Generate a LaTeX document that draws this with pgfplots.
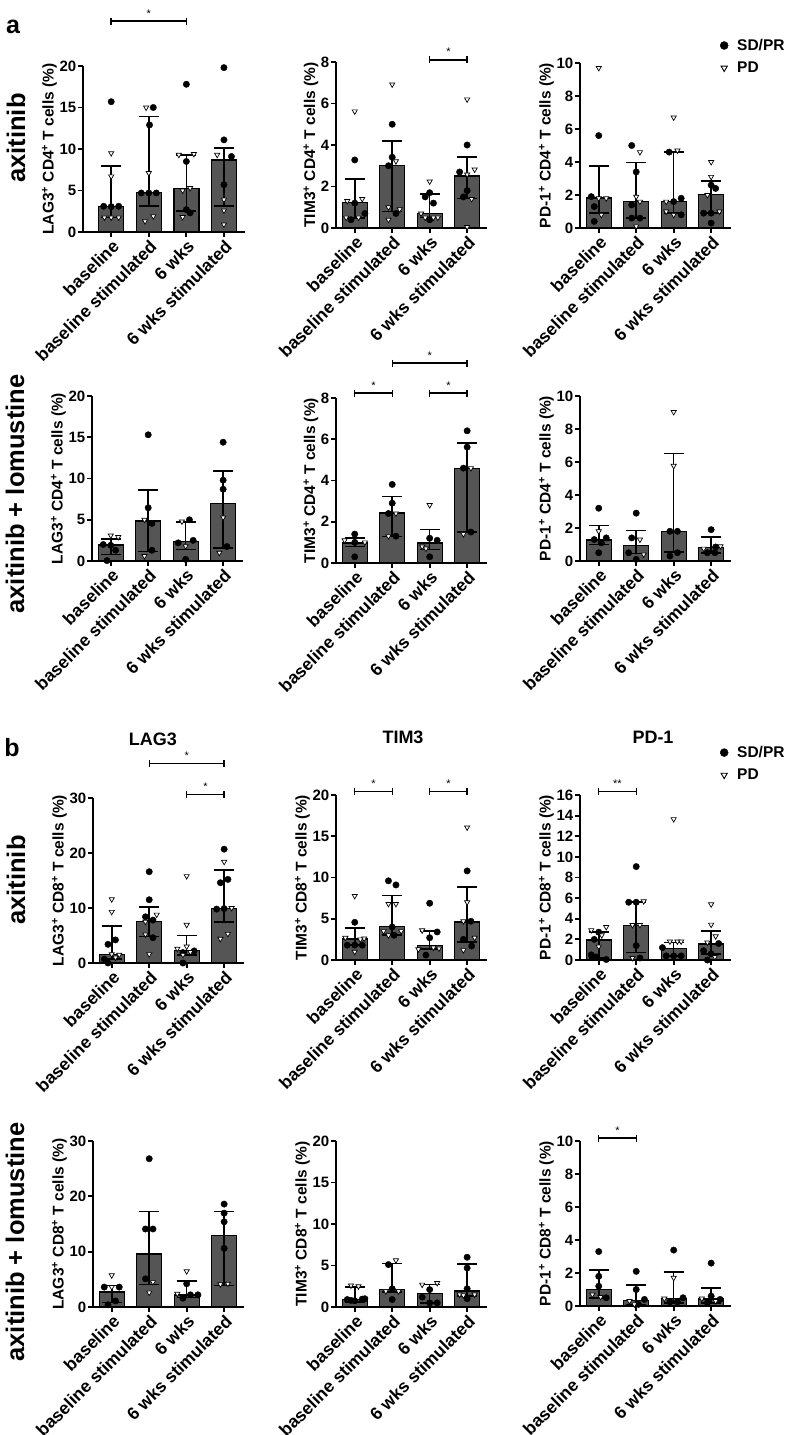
\documentclass[border=0pt]{standalone}
\usepackage{fontspec}
\setmainfont{Liberation Sans}
\usepackage{pgfplots}
\pgfplotsset{compat=1.18}
\definecolor{barfill}{HTML}{555555}
\newcommand\tickfont{\fontsize{15}{17}\selectfont\bfseries}
\newcommand\catfont{\fontsize{17.5}{19}\selectfont\bfseries}
\newcommand\labfont{\fontsize{15.5}{18}\selectfont\bfseries}
\newcommand\legfont{\fontsize{15.5}{18}\selectfont\bfseries}
\newcommand\starfont{\fontsize{11}{12}\selectfont}
\newcommand\sidefont{\fontsize{25.5}{28}\selectfont\bfseries}
\newcommand\titlefont{\fontsize{18}{21}\selectfont\bfseries}
\newcommand\letterfont{\fontsize{25}{28}\selectfont\bfseries}
\pgfplotsset{
  panel/.style={
    scale only axis, anchor=south west, width=151pt, height=165pt,
    xmin=-0.5, xmax=3.53, ymin=0, enlargelimits=false, clip=false,
    axis lines=left, axis line style={-, line width=1.8pt, black},
    xtick={0,1,2,3}, xticklabels={baseline,baseline stimulated,6 wks,6 wks stimulated},
    tick align=outside, major tick length=5pt, tick style={line width=1.8pt, black},
    minor tick num=0,
    /pgf/number format/assume math mode=true,
    x tick label style={rotate=45, anchor=north east, font=\catfont, inner sep=1pt},
    y tick label style={font=\tickfont, inner sep=1.5pt},
    ylabel style={font=\labfont, inner sep=1pt},
    legend image code/.code={\draw[#1] plot coordinates {(0pt,0pt)};},
  },
  bars/.style={ybar, bar width=25pt, fill=barfill, draw=black, line width=1.3pt,
    error bars/y dir=both, error bars/y explicit,
    error bars/error bar style={line width=1.6pt, black},
    error bars/error mark options={rotate=90, mark size=10pt, line width=1.6pt, black}},
  sd/.style={only marks, mark=*, mark size=3.2pt, mark options={fill=black, draw=black}},
  pd/.style={only marks, mark=triangle*, mark size=3pt, mark options={rotate=180, fill=white, draw=black, line width=0.7pt}},
  sig/.style={black, line width=1.4pt, mark=|, mark size=3.5pt, mark options={solid, line width=1.4pt}},
  leg/.style={legend style={anchor=north west, draw=none, fill=none, font=\legfont, inner sep=0pt, row sep=6pt, legend cell align=left, /tikz/every odd column/.append style={column sep=7pt}}},
}
\tikzset{sigstar/.style={anchor=base, yshift=4pt, font=\starfont, inner sep=0pt}}
\begin{document}
\begin{tikzpicture}
\useasboundingbox (0pt,0pt) rectangle (785pt,-1435pt);
% ---------- Row 1: CD4, axitinib
\begin{axis}[panel, at={(83pt,-232pt)}, width=162pt, height=166pt, xmin=-0.75, xmax=3.56, ymax=20, ytick={0,5,10,15,20},
  ylabel={LAG3\textsuperscript{+} CD4\textsuperscript{+} T cells (\%)}]
\addplot[bars] coordinates {(0,3.07) += (0,4.88) -= (0,1.32) (1,4.77) += (0,9.13) -= (0,1.67) (2,5.25) += (0,4.0) -= (0,2.75) (3,8.66) += (0,1.44) -= (0,5.56)};
\addplot[sd] coordinates {(0,15.7) (-0.2,3.1) (0,3.05) (0.2,3.1) (1.12,15.0) (1.02,12.9) (0.8,4.7) (1.0,4.7) (1.2,4.7) (2,17.8) (2,8.5) (2,2.7) (2.1,2.3) (3,19.8) (3,11.1) (3.2,9.1) (3,5.7)};
\addplot[pd] coordinates {(0,9.5) (0,6.7) (-0.18,1.75) (0,1.75) (0.2,1.75) (0.93,15.0) (1,7.1) (1.12,1.9) (0.9,1.3) (1.8,9.3) (2.2,9.4) (1.9,5.0) (2.1,5.3) (1.9,1.8) (2.82,9.3) (3,3.9) (3,2.6) (3,0.9)};
\addplot[sig] coordinates {(0,25.4) (2,25.4)};
\node[sigstar] at (axis cs:1,25.4) {*};
\end{axis}
\begin{axis}[panel, at={(336pt,-228pt)}, height=166pt, ymax=8, ytick={0,2,4,6,8},
  ylabel={TIM3\textsuperscript{+} CD4\textsuperscript{+} T cells (\%)}]
\addplot[bars] coordinates {(0,1.22) += (0,1.13) -= (0,0.74) (1,3.01) += (0,1.19) -= (0,2.22) (2,0.71) += (0,0.92) -= (0,0.21) (3,2.51) += (0,0.9) -= (0,1.09)};
\addplot[sd] coordinates {(0,3.28) (0,1.2) (0.27,0.7) (-0.1,0.4) (1,5.0) (1,3.41) (0.9,3.0) (1.1,0.7) (2,1.7) (1.88,1.5) (2.1,1.2) (2,0.4) (3,4.0) (2.8,2.7) (3,1.8) (2.9,1.5)};
\addplot[pd] coordinates {(0,5.62) (-0.2,1.3) (0.2,1.4) (-0.23,0.5) (0.1,0.5) (1,6.92) (1.1,3.22) (0.9,1.0) (1.2,0.9) (0.9,0.4) (2,2.24) (1.77,0.7) (1.88,0.5) (2.1,0.5) (2.22,0.5) (3,6.2) (3.2,2.82) (3,2.58) (3.12,1.4) (3,0.05)};
\addplot[sig] coordinates {(2,8.1) (3,8.1)};
\node[sigstar] at (axis cs:2.5,8.1) {*};
\end{axis}
\begin{axis}[panel, leg, at={(580pt,-228pt)}, ymax=10, ytick={0,2,4,6,8,10},
  ylabel={PD-1\textsuperscript{+} CD4\textsuperscript{+} T cells (\%)},
  legend style={at={(0.927,1.158)}}]
\addlegendimage{black, mark=*, mark size=4pt}
\addlegendentry{SD/PR}
\addlegendimage{black, mark=triangle*, mark size=3.6pt, mark options={rotate=180, fill=white, draw=black, line width=0.9pt}}
\addlegendentry{PD}
\addplot[bars] coordinates {(0,1.81) += (0,1.95) -= (0,0.91) (1,1.61) += (0,2.37) -= (0,1.01) (2,1.6) += (0,2.99) -= (0,0.7) (3,2.03) += (0,0.81) -= (0,1.13)};
\addplot[sd] coordinates {(0,5.6) (-0.2,1.9) (-0.12,1.3) (-0.12,0.4) (0.88,5.0) (1,3.4) (0.88,1.4) (0.88,0.6) (1.1,0.6) (1.88,4.6) (2,1.6) (2.2,1.8) (2.2,0.8) (3,2.6) (3.12,2.4) (2.8,0.9) (3,0.9) (3,0.3)};
\addplot[pd] coordinates {(0,9.7) (0,1.8) (0.2,1.8) (0.07,0.8) (1.1,4.6) (1,1.9) (1.1,1.6) (1,0.1) (2,6.7) (2.1,4.7) (1.8,1.6) (1.8,1.0) (2,0.8) (3,4.0) (3,3.1) (2.9,2.0) (3.22,1.0)};
\end{axis}
% ---------- Row 2: CD4, axitinib + lomustine
\begin{axis}[panel, at={(92pt,-561pt)}, ymax=20, ytick={0,5,10,15,20},
  ylabel={LAG3\textsuperscript{+} CD4\textsuperscript{+} T cells (\%)}]
\addplot[bars] coordinates {(0,1.94) += (0,0.76) -= (0,1.17) (1,4.84) += (0,3.79) -= (0,3.71) (2,2.34) += (0,2.38) -= (0,0.93) (3,6.94) += (0,3.99) -= (0,5.33)};
\addplot[sd] coordinates {(-0.2,2.0) (0,1.9) (0.13,1.3) (-0.1,0.05) (1,15.3) (1,6.45) (1.1,4.56) (1.1,1.3) (2.1,5.0) (2.2,2.5) (1.8,2.2) (2,0.2) (3,14.4) (3,9.8) (3,8.7) (3.1,1.75)};
\addplot[pd] coordinates {(0,3.1) (0.2,2.9) (0.9,5.0) (0.9,0.6) (1.9,4.8) (2,1.8) (3,5.28) (2.9,1.0)};
\end{axis}
\begin{axis}[panel, at={(336pt,-563pt)}, ymax=8, ytick={0,2,4,6,8},
  ylabel={TIM3\textsuperscript{+} CD4\textsuperscript{+} T cells (\%)}]
\addplot[bars] coordinates {(0,0.97) += (0,0.23) -= (0,0.17) (1,2.42) += (0,0.81) -= (0,1.13) (2,0.97) += (0,0.65) -= (0,0.32) (3,4.57) += (0,1.25) -= (0,3.07)};
\addplot[sd] coordinates {(0,1.4) (0,1.0) (0,0.3) (1,3.81) (1,2.9) (0.9,2.4) (1.1,1.3) (2,1.2) (2.2,1.1) (2,0.3) (3,6.41) (3,5.62) (2.9,4.6) (3.1,1.5)};
\addplot[pd] coordinates {(-0.27,1.1) (0.27,1.0) (1.1,2.4) (0.9,1.3) (2,2.81) (1.8,0.8) (1.9,0.7) (3.1,4.6) (2.9,1.4)};
\addplot[sig] coordinates {(0,8.24) (1,8.24)};
\addplot[sig] coordinates {(2,8.24) (3,8.24)};
\addplot[sig] coordinates {(1,9.69) (3,9.69)};
\node[sigstar] at (axis cs:0.5,8.24) {*};
\node[sigstar] at (axis cs:2.5,8.24) {*};
\node[sigstar] at (axis cs:2,9.69) {*};
\end{axis}
\begin{axis}[panel, at={(580pt,-561pt)}, ymax=10, ytick={0,2,4,6,8,10},
  ylabel={PD-1\textsuperscript{+} CD4\textsuperscript{+} T cells (\%)}]
\addplot[bars] coordinates {(0,1.27) += (0,0.89) -= (0,0.27) (1,0.93) += (0,0.92) -= (0,0.48) (2,1.79) += (0,4.72) -= (0,1.25) (3,0.81) += (0,0.64) -= (0,0.31)};
\addplot[sd] coordinates {(0,3.2) (0.2,1.4) (-0.12,1.3) (0.07,1.1) (0,0.5) (1,2.9) (0.88,1.4) (0.8,0.5) (1,0.1) (1.9,1.8) (2.1,1.8) (2.1,0.5) (1.9,0.3) (3,1.9) (3.12,0.85) (2.9,0.5) (3.1,0.5)};
\addplot[pd] coordinates {(0,1.8) (1.1,1.3) (1.2,0.4) (2,9.03) (2,5.77) (3.25,0.9) (2.8,0.75)};
\end{axis}
% ---------- Row 3: CD8, axitinib
\begin{axis}[panel, at={(93pt,-963pt)}, ymax=30, ytick={0,10,20,30},
  ylabel={LAG3\textsuperscript{+} CD8\textsuperscript{+} T cells (\%)}]
\addplot[bars] coordinates {(0,1.5) += (0,5.2) -= (0,0.8) (1,7.6) += (0,2.6) -= (0,2.77) (2,2.3) += (0,2.7) -= (0,0.8) (3,9.96) += (0,6.94) -= (0,2.54)};
\addplot[sd] coordinates {(0.1,4.2) (-0.1,3.4) (-0.2,0.7) (-0.1,0.0) (1,16.6) (1,11.5) (0.9,8.4) (1.1,7.8) (1.1,4.6) (2.2,2.2) (1.9,1.9) (1.9,0.0) (3,20.7) (2.9,14.6) (3.1,15.2) (2.8,9.8) (3,9.9)};
\addplot[pd] coordinates {(0,11.6) (0,9.3) (0,1.6) (0.2,1.5) (0.1,1.0) (1.2,8.8) (0.9,7.5) (0.9,5.2) (1,1.6) (2,15.8) (2,6.94) (2,3.0) (1.75,2.6) (2.1,2.0) (1.9,1.5) (3,18.4) (3.2,10.0) (3.1,5.3) (2.9,4.4)};
\addplot[sig] coordinates {(1,36.3) (3,36.3)};
\addplot[sig] coordinates {(2,30.6) (3,30.6)};
\node[sigstar] at (axis cs:2,36.3) {*};
\node[sigstar] at (axis cs:2.5,30.6) {*};
\end{axis}
\begin{axis}[panel, at={(336pt,-960pt)}, ymax=20, ytick={0,5,10,15,20},
  ylabel={TIM3\textsuperscript{+} CD8\textsuperscript{+} T cells (\%)}]
\addplot[bars] coordinates {(0,2.55) += (0,1.3) -= (0,0.75) (1,4.05) += (0,3.75) -= (0,1.05) (2,1.78) += (0,1.74) -= (0,0.48) (3,4.6) += (0,4.23) -= (0,2.4)};
\addplot[sd] coordinates {(0,4.57) (-0.2,1.8) (0,1.8) (0.2,1.8) (0.9,9.6) (1.1,9.1) (1,4.0) (1.05,3.0) (2,6.88) (2.2,3.4) (2,2.7) (1.9,0.6) (3,10.8) (3.1,4.7) (2.9,2.5) (3.12,1.7)};
\addplot[pd] coordinates {(0,7.77) (-0.25,2.7) (0.25,2.6) (0.15,2.5) (0,1.0) (0.9,6.8) (1.1,6.8) (0.77,3.5) (1.24,3.5) (0.9,3.0) (1.8,3.6) (2.1,1.5) (1.7,1.3) (2.25,1.4) (3,16.07) (3,7.0) (2.9,4.7) (3.2,2.7) (2.9,1.2)};
\addplot[sig] coordinates {(0,20.45) (1,20.45)};
\addplot[sig] coordinates {(2,20.45) (3,20.45)};
\node[sigstar] at (axis cs:0.5,20.45) {*};
\node[sigstar] at (axis cs:2.5,20.45) {*};
\end{axis}
\begin{axis}[panel, leg, at={(580pt,-960pt)}, ymax=16, ytick={0,2,4,6,8,10,12,14,16},
  ylabel={PD-1\textsuperscript{+} CD8\textsuperscript{+} T cells (\%)},
  legend style={at={(0.927,1.309)}}]
\addlegendimage{black, mark=*, mark size=4pt}
\addlegendentry{SD/PR}
\addlegendimage{black, mark=triangle*, mark size=3.6pt, mark options={rotate=180, fill=white, draw=black, line width=0.9pt}}
\addlegendentry{PD}
\addplot[bars] coordinates {(0,1.94) += (0,0.75) -= (0,1.74) (1,3.37) += (0,2.23) -= (0,2.63) (2,1.13) += (0,0.55) -= (0,0.73) (3,1.55) += (0,1.27) -= (0,0.95)};
\addplot[sd] coordinates {(0,2.7) (-0.12,2.0) (-0.2,0.5) (-0.08,0.3) (0.2,0.05) (1,9.06) (0.8,5.6) (1,5.6) (1,1.4) (1.1,0.2) (1.7,1.2) (1.8,0.4) (2,0.4) (2.2,0.4) (3.2,1.6) (2.8,0.9) (3,0.6) (2.9,0.0)};
\addplot[pd] coordinates {(0.2,3.2) (-0.2,2.9) (0.08,2.4) (0,1.3) (1.2,5.7) (0.9,3.4) (1.1,3.4) (0.9,0.2) (2,13.66) (1.9,1.8) (2.1,1.8) (2.2,1.8) (3,5.4) (3,3.43) (3.12,2.3) (2.9,1.7) (3.1,0.3)};
\addplot[sig] coordinates {(0,16.34) (1,16.34)};
\node[sigstar] at (axis cs:0.5,16.34) {**};
\end{axis}
% ---------- Row 4: CD8, axitinib + lomustine
\begin{axis}[panel, at={(93pt,-1307pt)}, height=166pt, ymax=30, ytick={0,10,20,30},
  ylabel={LAG3\textsuperscript{+} CD8\textsuperscript{+} T cells (\%)}]
\addplot[bars] coordinates {(0,2.72) += (0,1.14) -= (0,1.92) (1,9.6) += (0,7.66) -= (0,5.5) (2,2.17) += (0,2.48) -= (0,0.47) (3,12.98) += (0,4.28) -= (0,9.06)};
\addplot[sd] coordinates {(-0.2,3.6) (0.2,3.6) (0.1,1.1) (-0.1,0.4) (1,26.8) (0.9,14.1) (1.1,14.1) (0.9,5.1) (2,4.2) (2.1,2.2) (2.3,2.2) (1.9,1.6) (3,18.6) (3,16.96) (3,15.4) (3,10.6)};
\addplot[pd] coordinates {(0,5.73) (0,3.6) (1.1,4.5) (1,2.6) (2,6.46) (1.75,2.4) (2.9,4.1) (3.1,4.2)};
\end{axis}
\begin{axis}[panel, at={(336pt,-1307pt)}, height=166pt, ymax=20, ytick={0,5,10,15,20},
  ylabel={TIM3\textsuperscript{+} CD8\textsuperscript{+} T cells (\%)}]
\addplot[bars] coordinates {(0,0.93) += (0,1.48) -= (0,0.33) (1,2.09) += (0,3.14) -= (0,0.29) (2,1.61) += (0,1.09) -= (0,1.11) (3,1.93) += (0,3.22) -= (0,0.63)};
\addplot[sd] coordinates {(-0.2,0.9) (0,0.75) (0.2,0.95) (-0.1,0.8) (0.27,1.0) (0.9,5.11) (1,2.2) (1,0.9) (2,2.1) (1.8,1.2) (2,0.5) (2.2,0.5) (3,6.0) (3,4.7) (3,2.2) (3,1.0)};
\addplot[pd] coordinates {(-0.1,2.6) (0.1,2.5) (1.1,5.63) (0.83,1.9) (1.17,1.9) (1.8,2.7) (2.2,2.9) (2.8,1.5) (3.2,1.5) (2.9,1.4)};
\end{axis}
\begin{axis}[panel, at={(580pt,-1306pt)}, ymax=10, ytick={0,2,4,6,8,10},
  ylabel={PD-1\textsuperscript{+} CD8\textsuperscript{+} T cells (\%)}]
\addplot[bars] coordinates {(0,0.99) += (0,1.19) -= (0,0.49) (1,0.34) += (0,0.95) -= (0,0.29) (2,0.46) += (0,1.6) -= (0,0.26) (3,0.42) += (0,0.69) -= (0,0.22)};
\addplot[sd] coordinates {(0,3.3) (0,1.8) (0,1.2) (0.2,0.5) (1,2.1) (1,1.0) (1.22,0.4) (1.06,0.1) (2,3.39) (2.25,0.5) (1.9,0.25) (2.1,0.25) (3,2.6) (3,0.6) (3.24,0.4) (2.9,0.2)};
\addplot[pd] coordinates {(-0.17,0.7) (0.05,0.55) (0.82,0.3) (0.95,0.1) (2,1.71) (1.75,0.45) (2.75,0.45) (3.12,0.3)};
\addplot[sig] coordinates {(0,10.18) (1,10.18)};
\node[sigstar] at (axis cs:0.5,10.18) {*};
\end{axis}
% ---------- free text
\node[font=\letterfont] at (13pt,-27pt) {a};
\node[font=\letterfont] at (12pt,-748pt) {b};
\node[font=\sidefont, rotate=90] at (16pt,-138pt) {axitinib};
\node[font=\sidefont, rotate=90] at (15pt,-494pt) {axitinib + lomustine};
\node[font=\sidefont, rotate=90] at (16pt,-880pt) {axitinib};
\node[font=\sidefont, rotate=90] at (15pt,-1242pt) {axitinib + lomustine};
\node[font=\titlefont] at (153pt,-739pt) {LAG3};
\node[font=\titlefont] at (403pt,-737pt) {TIM3};
\node[font=\titlefont] at (653pt,-737pt) {PD-1};
\end{tikzpicture}
\end{document}
